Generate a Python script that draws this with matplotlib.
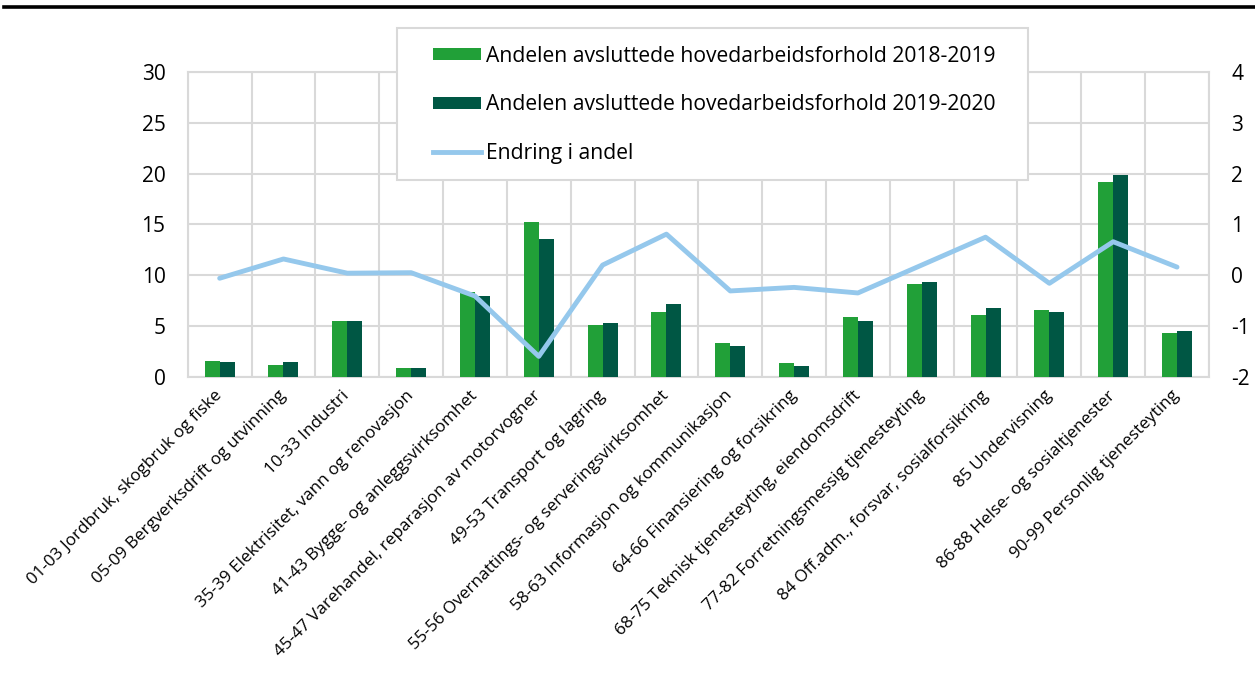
import matplotlib
matplotlib.use("Agg")
import matplotlib.pyplot as plt
from matplotlib.lines import Line2D
from matplotlib.patches import Patch, Rectangle
import numpy as np

plt.rcParams['font.family'] = ['Open Sans', 'DejaVu Sans']
plt.rcParams['axes.unicode_minus'] = False

# Næringer (NACE)
categories = [
    "01-03 Jordbruk, skogbruk og fiske",
    "05-09 Bergverksdrift og utvinning",
    "10-33 Industri",
    "35-39 Elektrisitet, vann og renovasjon",
    "41-43 Bygge- og anleggsvirksomhet",
    "45-47 Varehandel, reparasjon av motorvogner",
    "49-53 Transport og lagring",
    "55-56 Overnattings- og serveringsvirksomhet",
    "58-63 Informasjon og kommunikasjon",
    "64-66 Finansiering og forsikring",
    "68-75 Teknisk tjenesteyting, eiendomsdrift",
    "77-82 Forretningsmessig tjenesteyting",
    "84 Off.adm., forsvar, sosialforsikring",
    "85 Undervisning",
    "86-88 Helse- og sosialtjenester",
    "90-99 Personlig tjenesteyting",
]
andel_2018_2019 = [1.57, 1.15, 5.44, 0.82, 8.39, 15.2, 5.05, 6.36, 3.34, 1.31, 5.87, 9.14, 6.03, 6.59, 19.2, 4.33]
andel_2019_2020 = [1.47, 1.47, 5.50, 0.90, 7.96, 13.6, 5.27, 7.18, 3.05, 1.05, 5.50, 9.34, 6.75, 6.42, 19.9, 4.49]
endring = [-0.06, 0.32, 0.04, 0.05, -0.41, -1.60, 0.20, 0.81, -0.31, -0.24, -0.35, 0.20, 0.75, -0.16, 0.66, 0.16]

light_green = "#21A038"
dark_green = "#005744"
line_blue = "#95C8EC"
grid_col = "#D9D9D9"

fig = plt.figure(figsize=(12.55, 6.73), dpi=100)
ax = fig.add_axes([0.1496, 0.4403, 0.9633 - 0.1496, 0.8926 - 0.4403])

x = np.arange(len(categories))
w = 0.235
ax.bar(x - w / 2, andel_2018_2019, w, color=light_green, zorder=3)
ax.bar(x + w / 2, andel_2019_2020, w, color=dark_green, zorder=3)

ax.set_xlim(-0.5, len(categories) - 0.5)
ax.set_ylim(0, 30)
ax.set_yticks(range(0, 31, 5))
ax.set_xticks(x)
ax.set_xticklabels(categories, rotation=45, ha='right', va='center',
                   rotation_mode='anchor', fontsize=12.3)
ax.set_xticks(np.arange(-0.5, len(categories), 1), minor=True)
ax.grid(True, which='minor', axis='x', color=grid_col, lw=1.5, zorder=0)
ax.grid(True, which='major', axis='y', color=grid_col, lw=1.5, zorder=0)
ax.tick_params(axis='x', which='both', length=0, pad=12)
ax.tick_params(axis='y', length=0, pad=16, labelsize=15)
for s in ax.spines.values():
    s.set_color(grid_col)
    s.set_linewidth(1.5)

ax2 = ax.twinx()
ax2.plot(x, endring, color=line_blue, lw=3.5, solid_capstyle='round', zorder=4)
ax2.set_ylim(-2, 4)
ax2.set_yticks(range(-2, 5))
ax2.tick_params(axis='y', length=0, pad=16, labelsize=15)
for s in ax2.spines.values():
    s.set_visible(False)

# legend box
fig.add_artist(Rectangle((397 / 1255, 1 - 180 / 673), (1028 - 397) / 1255, (180 - 28) / 673,
                         transform=fig.transFigure, facecolor='white',
                         edgecolor=grid_col, lw=1.5, zorder=5))
handles = [
    Patch(facecolor=light_green, label="Andelen avsluttede hovedarbeidsforhold 2018-2019"),
    Patch(facecolor=dark_green, label="Andelen avsluttede hovedarbeidsforhold 2019-2020"),
    Line2D([], [], color=line_blue, lw=3.5, label="Endring i andel"),
]
leg = fig.legend(handles=handles, loc='upper left', bbox_to_anchor=(422 / 1255, 1 - 35 / 673),
                 frameon=False, fontsize=15.2, handlelength=2.3, handleheight=0.55,
                 handletextpad=0.25, labelspacing=1.32, borderpad=0)
leg.set_zorder(6)

# top rule
fig.add_artist(Line2D([0.003, 1.0], [1 - 7 / 673, 1 - 7 / 673], color='black', lw=2.6,
                      transform=fig.transFigure))

fig.savefig("out.png", dpi=100)
